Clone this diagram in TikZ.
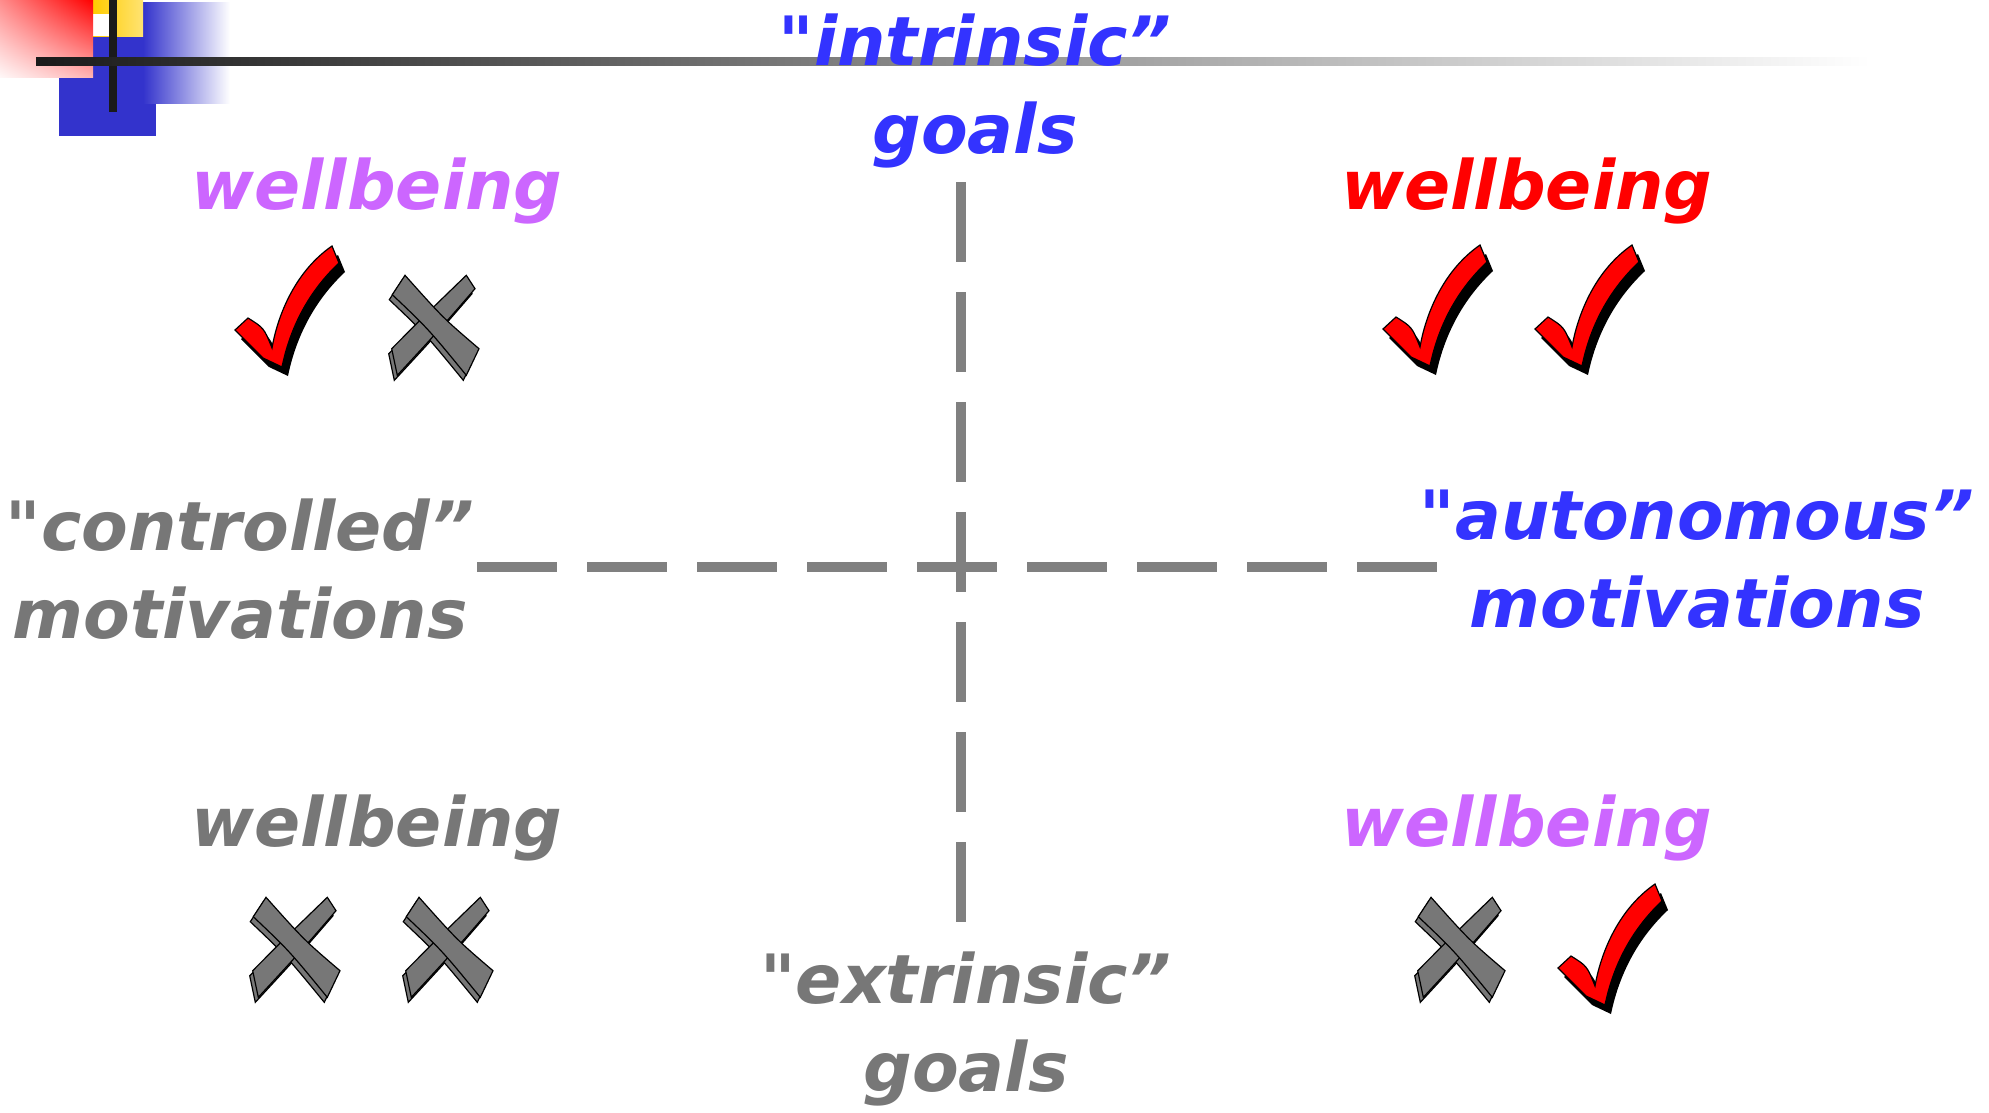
\documentclass[tikz,border=0pt]{standalone}
\usepackage{fontspec}
\usetikzlibrary{shadings}
\newfontfamily\slidefont{DejaVu Sans}
\definecolor{goalblue}{HTML}{3333FF}
\definecolor{wbviolet}{HTML}{CC66FF}
\definecolor{textgray}{HTML}{777777}
\definecolor{axisgray}{HTML}{808080}
\definecolor{logoblue}{HTML}{3333CC}
\definecolor{logoyellow}{HTML}{FFCC00}
\definecolor{nearblack}{HTML}{1A1A1A}

% outlines of the tick and of the two arms of the cross
\newcommand\tickpath{(-56,19) -- (-43,7) .. controls (-27,17) .. (-19,37)
  .. controls (-14,8) and (2,-38) .. (41,-65) -- (48,-48)
  .. controls (14,-16) and (-2,22) .. (-9,56) -- (-28,47) -- cycle}
\newcommand\armpathA{(-29,-42.7) .. controls (9.2,0.1) .. (45,30.7) -- (32.3,57.3)
  .. controls (-5.7,10.9) .. (-41.7,-23.3) -- cycle}
\newcommand\armpathB{(32.3,-42.7) .. controls (-9.9,-1.9) .. (-42.3,30.7) -- (-36.7,57.3)
  .. controls (7.1,9.9) .. (41,-29.3) -- cycle}

\tikzset{
  checkmark/.pic={
    \fill[black,shift={(6,9)}] \tickpath;
    \filldraw[fill=red,draw=black,line width=1.2pt] \tickpath;
  },
  crossmark/.pic={
    \begin{scope}[shift={(-3,5)}]
      \filldraw[fill=textgray,draw=black,line width=1.2pt] \armpathB;
      \filldraw[fill=textgray,draw=black,line width=1.2pt] \armpathA;
    \end{scope}
    \filldraw[fill=textgray,draw=black,line width=1.2pt] \armpathB;
    \filldraw[fill=textgray,draw=black,line width=1.2pt] \armpathA;
  }
}

\begin{document}
\begin{tikzpicture}[x=1pt,y=-1pt,
  axisline/.style={draw=axisgray,line width=10pt,dash pattern=on 80pt off 30pt},
  bigtext/.style={font=\slidefont\fontsize{68}{88}\selectfont\bfseries\itshape,
    inner sep=0pt,align=center,anchor=base}]
\useasboundingbox (0,0) rectangle (1989,1112);

% corner logo
\fill[logoblue] (59,36) rectangle (156,136);
\shade[left color=logoblue,right color=white] (143,2) rectangle (230,103);
\shade[left color=logoyellow,right color=logoyellow!55] (93,0) rectangle (143,36);
\fill[white] (93,14) rectangle (109,36);
\shade[upper right=red,upper left=red!45,lower right=red!30,lower left=red!3]
  (0,0) rectangle (93,77);
\fill[nearblack] (109,0) rectangle (117,112);
\shade[left color=nearblack,middle color=black!30,right color=white]
  (36,57) rectangle (1870,65);

% axes
\coordinate (goaltop) at (961,182);
\coordinate (goalbot) at (961,922);
\coordinate (motleft) at (477,567);
\coordinate (motright) at (1437,567);
\draw[axisline] (goaltop) -- (goalbot);
\draw[axisline] (motleft) -- (motright);

% axis labels (base = last line)
\node[bigtext,text=goalblue] (intrinsic) at (975,153) {"intrinsic”\\goals};
\node[bigtext,text=textgray] (extrinsic) at (966,1091) {"extrinsic”\\goals};
\node[bigtext,text=textgray] (controlled) at (240,638) {"controlled”\\motivations};
\node[bigtext,text=goalblue] (autonomous) at (1697,627) {"autonomous”\\motivations};

% quadrants
\node[bigtext,text=wbviolet] (wbtl) at (377,209) {wellbeing};
\node[bigtext,text=red] (wbtr) at (1527,209) {wellbeing};
\node[bigtext,text=textgray] (wbbl) at (377,846) {wellbeing};
\node[bigtext,text=wbviolet] (wbbr) at (1527,846) {wellbeing};

\pic (tltick) at (291,311) {checkmark};
\pic (tlcross) at (434,318) {crossmark};
\pic (trtick1) at (1439,310) {checkmark};
\pic (trtick2) at (1591,310) {checkmark};
\pic (blcross1) at (295,940) {crossmark};
\pic (blcross2) at (448,940) {crossmark};
\pic (brcross) at (1460,940) {crossmark};
\pic (brtick) at (1614,949) {checkmark};
\end{tikzpicture}
\end{document}
